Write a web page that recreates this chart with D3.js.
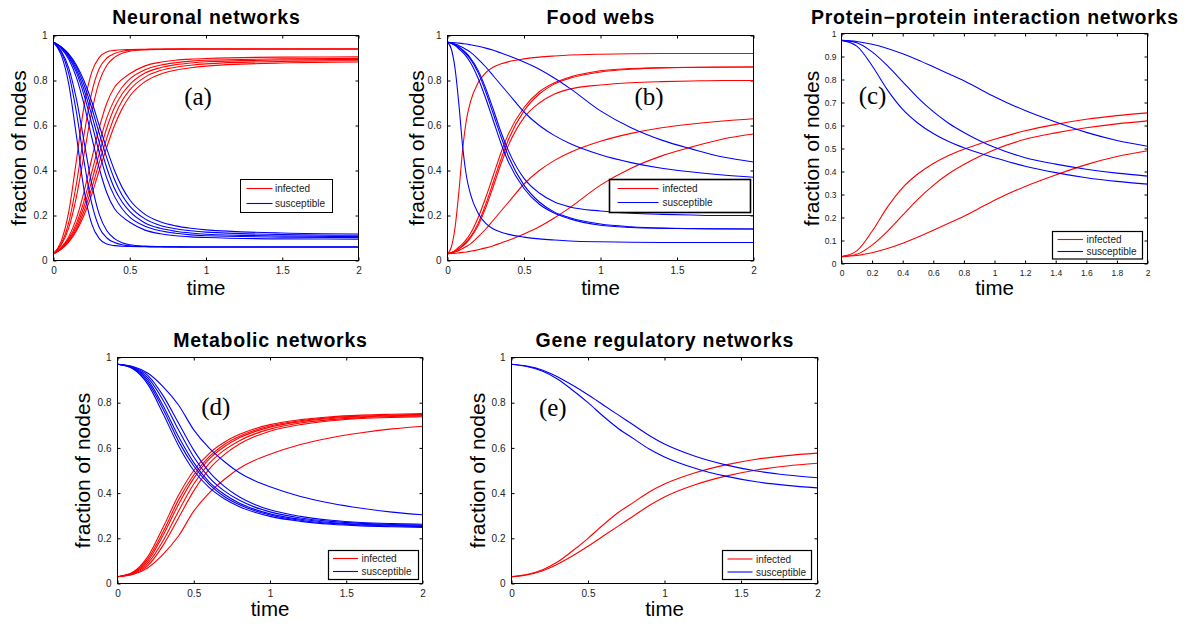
<!DOCTYPE html>
<html><head><meta charset="utf-8">
<script src="https://cdn.jsdelivr.net/npm/d3@7"></script>
<style>body{margin:0;background:#fff} svg{display:block}</style>
</head><body>
<svg id="chart" width="1200" height="624"></svg>
<script>
// ---------------- DATA ----------------
const titles = ["Neuronal networks","Food webs","Protein\u2212protein interaction networks","Metabolic networks","Gene regulatory networks"];
const panelTags = ["(a)","(b)","(c)","(d)","(e)"];
const legendLabels = ["infected","susceptible"];
const xAxisTitle = "time";
const yAxisTitle = "fraction of nodes";

const xTickLabels = ["0","0.5","1","1.5","2"];
const yTickLabels = ["0","0.2","0.4","0.6","0.8","1"];
const xTickLabelsC = ["0","0.2","0.4","0.6","0.8","1","1.2","1.4","1.6","1.8","2"];
const yTickLabelsC = ["0","0.1","0.2","0.3","0.4","0.5","0.6","0.7","0.8","0.9","1"];

// (a) Neuronal networks
const timesA = [0,0.05,0.1,0.15,0.2,0.25,0.3,0.35,0.4,0.45,0.5,0.6,0.7,0.8,0.9,1,1.5,2];
const infectedA = [
 [0.03,0.085,0.216,0.444,0.685,0.836,0.903,0.927,0.934,0.937,0.938,0.939,0.94,0.94,0.94,0.94,0.94,0.94],
 [0.03,0.073,0.169,0.340,0.558,0.744,0.853,0.9,0.92,0.93,0.935,0.938,0.939,0.94,0.94,0.94,0.94,0.94],
 [0.03,0.068,0.145,0.282,0.47,0.658,0.795,0.868,0.903,0.921,0.93,0.936,0.938,0.939,0.94,0.94,0.94,0.94],
 [0.03,0.057,0.106,0.186,0.305,0.45,0.59,0.70,0.77,0.805,0.83,0.865,0.881,0.89,0.895,0.898,0.904,0.905],
 [0.03,0.054,0.096,0.164,0.264,0.39,0.52,0.635,0.715,0.77,0.807,0.848,0.868,0.879,0.886,0.89,0.896,0.898],
 [0.03,0.053,0.091,0.151,0.24,0.352,0.475,0.59,0.68,0.74,0.782,0.833,0.857,0.87,0.878,0.883,0.891,0.893],
 [0.03,0.051,0.086,0.139,0.219,0.32,0.435,0.545,0.64,0.71,0.758,0.815,0.844,0.859,0.868,0.874,0.885,0.888],
 [0.03,0.05,0.082,0.131,0.201,0.292,0.40,0.505,0.60,0.675,0.73,0.795,0.828,0.846,0.857,0.864,0.878,0.882]
];
const susceptibleA = [
 [0.97,0.915,0.784,0.556,0.315,0.164,0.097,0.073,0.066,0.063,0.062,0.061,0.06,0.06,0.06,0.06,0.06,0.06],
 [0.97,0.927,0.831,0.66,0.442,0.256,0.147,0.1,0.08,0.07,0.065,0.062,0.061,0.06,0.06,0.06,0.06,0.06],
 [0.97,0.932,0.855,0.718,0.53,0.342,0.205,0.132,0.097,0.079,0.07,0.064,0.062,0.061,0.06,0.06,0.06,0.06],
 [0.97,0.943,0.894,0.814,0.695,0.55,0.41,0.30,0.23,0.195,0.17,0.135,0.119,0.11,0.105,0.102,0.096,0.095],
 [0.97,0.946,0.904,0.836,0.736,0.61,0.48,0.365,0.285,0.23,0.193,0.152,0.132,0.121,0.114,0.11,0.104,0.102],
 [0.97,0.947,0.909,0.849,0.76,0.648,0.525,0.41,0.32,0.26,0.218,0.167,0.143,0.13,0.122,0.117,0.109,0.107],
 [0.97,0.949,0.914,0.861,0.781,0.68,0.565,0.455,0.36,0.29,0.242,0.185,0.156,0.141,0.132,0.126,0.115,0.112],
 [0.97,0.95,0.918,0.869,0.799,0.708,0.60,0.495,0.40,0.325,0.27,0.205,0.172,0.154,0.143,0.136,0.122,0.118]
];

// (b) Food webs
const timesB = [0,0.025,0.05,0.075,0.1,0.125,0.15,0.2,0.25,0.3,0.35,0.4,0.5,0.6,0.7,0.8,1,1.2,1.4,1.6,1.8,2];
const infectedB = [
 [0.03,0.06,0.15,0.31,0.50,0.63,0.705,0.79,0.835,0.86,0.874,0.884,0.896,0.904,0.909,0.913,0.917,0.919,0.92,0.92,0.92,0.92],
 [0.03,0.035,0.045,0.06,0.075,0.095,0.12,0.19,0.28,0.38,0.48,0.565,0.68,0.75,0.79,0.815,0.843,0.853,0.857,0.859,0.86,0.86],
 [0.03,0.034,0.042,0.054,0.068,0.085,0.105,0.165,0.25,0.35,0.45,0.54,0.665,0.74,0.785,0.81,0.838,0.85,0.856,0.858,0.859,0.86],
 [0.03,0.034,0.041,0.051,0.064,0.08,0.10,0.155,0.235,0.33,0.43,0.515,0.635,0.70,0.74,0.762,0.78,0.79,0.795,0.798,0.8,0.8],
 [0.03,0.033,0.038,0.045,0.053,0.063,0.074,0.105,0.14,0.18,0.22,0.26,0.34,0.40,0.445,0.48,0.53,0.565,0.59,0.607,0.62,0.63],
 [0.03,0.031,0.032,0.034,0.036,0.038,0.041,0.048,0.056,0.066,0.078,0.09,0.118,0.15,0.19,0.235,0.335,0.41,0.465,0.505,0.54,0.562]
];
const susceptibleB = [
 [0.97,0.94,0.85,0.69,0.50,0.37,0.295,0.21,0.165,0.14,0.126,0.116,0.104,0.096,0.091,0.087,0.083,0.081,0.08,0.08,0.08,0.08],
 [0.97,0.965,0.955,0.94,0.925,0.905,0.88,0.81,0.72,0.62,0.52,0.435,0.32,0.25,0.21,0.185,0.157,0.147,0.143,0.141,0.14,0.14],
 [0.97,0.966,0.958,0.946,0.932,0.915,0.895,0.835,0.75,0.65,0.55,0.46,0.335,0.26,0.215,0.19,0.162,0.15,0.144,0.142,0.141,0.14],
 [0.97,0.966,0.959,0.949,0.936,0.92,0.90,0.845,0.765,0.67,0.57,0.485,0.365,0.30,0.26,0.238,0.22,0.21,0.205,0.202,0.2,0.2],
 [0.97,0.967,0.962,0.955,0.947,0.937,0.926,0.895,0.86,0.82,0.78,0.74,0.66,0.60,0.555,0.52,0.47,0.435,0.41,0.393,0.38,0.37],
 [0.97,0.969,0.968,0.966,0.964,0.962,0.959,0.952,0.944,0.934,0.922,0.91,0.882,0.85,0.81,0.765,0.665,0.59,0.535,0.495,0.46,0.438]
];

// (c) Protein-protein interaction networks
const timesC = [0,0.1,0.2,0.3,0.4,0.5,0.6,0.7,0.8,0.9,1,1.2,1.4,1.6,1.8,2];
const infectedC = [
 [0.03,0.055,0.14,0.245,0.33,0.39,0.435,0.47,0.497,0.52,0.54,0.577,0.605,0.627,0.643,0.655],
 [0.03,0.04,0.08,0.14,0.21,0.28,0.34,0.39,0.43,0.465,0.495,0.54,0.568,0.59,0.607,0.62],
 [0.03,0.035,0.047,0.065,0.088,0.115,0.145,0.175,0.205,0.24,0.275,0.335,0.385,0.43,0.465,0.49]
];
const susceptibleC = [
 [0.97,0.945,0.86,0.755,0.67,0.61,0.565,0.53,0.503,0.48,0.46,0.423,0.395,0.373,0.357,0.345],
 [0.97,0.96,0.92,0.86,0.79,0.72,0.66,0.61,0.57,0.535,0.505,0.46,0.432,0.41,0.393,0.38],
 [0.97,0.965,0.953,0.935,0.912,0.885,0.855,0.825,0.795,0.76,0.725,0.665,0.615,0.57,0.535,0.51]
];

// (d) Metabolic networks
const timesD = [0,0.1,0.2,0.3,0.4,0.5,0.6,0.7,0.8,0.9,1,1.2,1.4,1.6,1.8,2];
const infectedD = [
 [0.03,0.05,0.12,0.25,0.39,0.50,0.575,0.625,0.66,0.685,0.703,0.725,0.738,0.745,0.749,0.752],
 [0.03,0.048,0.11,0.23,0.37,0.48,0.56,0.615,0.652,0.678,0.697,0.72,0.734,0.741,0.745,0.748],
 [0.03,0.046,0.10,0.215,0.35,0.465,0.55,0.605,0.645,0.672,0.692,0.716,0.73,0.738,0.742,0.745],
 [0.03,0.044,0.09,0.19,0.32,0.44,0.53,0.59,0.632,0.662,0.683,0.71,0.725,0.734,0.739,0.742],
 [0.03,0.042,0.08,0.17,0.29,0.41,0.505,0.57,0.617,0.65,0.674,0.703,0.72,0.73,0.735,0.738],
 [0.03,0.04,0.07,0.13,0.21,0.32,0.40,0.46,0.51,0.545,0.572,0.615,0.645,0.667,0.684,0.696]
];
const susceptibleD = [
 [0.97,0.95,0.88,0.75,0.61,0.50,0.425,0.375,0.34,0.315,0.297,0.275,0.262,0.255,0.251,0.248],
 [0.97,0.952,0.89,0.77,0.63,0.52,0.44,0.385,0.348,0.322,0.303,0.28,0.266,0.259,0.255,0.252],
 [0.97,0.954,0.90,0.785,0.65,0.535,0.45,0.395,0.355,0.328,0.308,0.284,0.27,0.262,0.258,0.255],
 [0.97,0.956,0.91,0.81,0.68,0.56,0.47,0.41,0.368,0.338,0.317,0.29,0.275,0.266,0.261,0.258],
 [0.97,0.958,0.92,0.83,0.71,0.59,0.495,0.43,0.383,0.35,0.326,0.297,0.28,0.27,0.265,0.262],
 [0.97,0.96,0.93,0.87,0.79,0.68,0.60,0.54,0.49,0.455,0.428,0.385,0.355,0.333,0.316,0.304]
];

// (e) Gene regulatory networks
const timesE = [0,0.1,0.2,0.3,0.4,0.5,0.6,0.7,0.8,0.9,1,1.2,1.4,1.6,1.8,2];
const infectedE = [
 [0.03,0.04,0.06,0.095,0.145,0.2,0.26,0.315,0.36,0.405,0.44,0.49,0.525,0.55,0.566,0.577],
 [0.03,0.038,0.055,0.085,0.123,0.165,0.21,0.255,0.30,0.345,0.383,0.437,0.475,0.502,0.52,0.532]
];
const susceptibleE = [
 [0.97,0.96,0.94,0.905,0.855,0.8,0.74,0.685,0.64,0.595,0.56,0.51,0.475,0.45,0.434,0.423],
 [0.97,0.962,0.945,0.915,0.877,0.835,0.79,0.745,0.70,0.655,0.617,0.563,0.525,0.498,0.48,0.468]
];

// ---------------- LAYOUT (positions / styles) ----------------
const layouts = [
 {x:[53.5,358.5], y:[260.5,35.5], titleY:24, ylabX:26, xlabY:294.5, tag:[198,105], tickFs:10,
  leg:{x:240.5,y:179.5,w:92,h:33,l0:246.5,l1:272.5,tx:275,r:[188.5,203.5],sw:1}},
 {x:[447.5,753.5], y:[260.5,35.5], titleY:24, ylabX:423.5, xlabY:294.5, tag:[649,105], tickFs:10,
  leg:{x:609.5,y:179.5,w:141,h:33,l0:617.5,l1:658.5,tx:662.5,r:[188.5,202.5],sw:1.6}},
 {x:[841.5,1147.5], y:[263.5,33.5], titleY:24, ylabX:819, xlabY:294.5, tag:[872.5,104], tickFs:8.5,
  leg:{x:1052.5,y:231.5,w:90,h:27.5,l0:1057.5,l1:1083,tx:1086.5,r:[239.5,251.5],sw:1.2}},
 {x:[117.5,422.5], y:[583.5,357.5], titleY:347, ylabX:90, xlabY:616, tag:[215.8,415], tickFs:10,
  leg:{x:328.5,y:550.5,w:90,h:29,l0:333,l1:358,tx:361.5,r:[558.5,571.5],sw:1.2}},
 {x:[511.5,817.5], y:[583.5,357.5], titleY:347, ylabX:485, xlabY:616, tag:[552.8,416], tickFs:10,
  leg:{x:722.5,y:550.5,w:89,h:29,l0:727.5,l1:752.5,tx:756,r:[559,572],sw:1.2}}
];

const panels = [
 {times:timesA, inf:infectedA, sus:susceptibleA, xl:xTickLabels, yl:yTickLabels},
 {times:timesB, inf:infectedB, sus:susceptibleB, xl:xTickLabels, yl:yTickLabels},
 {times:timesC, inf:infectedC, sus:susceptibleC, xl:xTickLabelsC, yl:yTickLabelsC},
 {times:timesD, inf:infectedD, sus:susceptibleD, xl:xTickLabels, yl:yTickLabels},
 {times:timesE, inf:infectedE, sus:susceptibleE, xl:xTickLabels, yl:yTickLabels}
];

const SANS = "'Liberation Sans', Arial, Helvetica, sans-serif";
const SERIF = "'Liberation Serif', 'Times New Roman', serif";
const RED = "#ff0000", BLUE = "#0000ff";
const svg = d3.select("#chart");

panels.forEach((p, k) => {
  const L = layouts[k];
  const x = d3.scaleLinear().domain([0, 2]).range(L.x);
  const y = d3.scaleLinear().domain([0, 1]).range(L.y);
  const g = svg.append("g");
  const cid = "clip" + k;
  g.append("clipPath").attr("id", cid).append("rect")
    .attr("x", L.x[0]).attr("y", L.y[1]).attr("width", L.x[1]-L.x[0]).attr("height", L.y[0]-L.y[1]);

  const xv = p.xl.map(Number), yv = p.yl.map(Number);
  const fmt = labels => (d, i) => labels[i];
  const styleAxis = sel => {
    sel.select(".domain").remove();
    sel.selectAll("line").attr("stroke", "#000").attr("stroke-width", 1);
    sel.selectAll("text").attr("fill", "#222").attr("font-family", SANS).attr("font-size", L.tickFs);
  };
  g.append("g").attr("transform", `translate(0,${L.y[0]})`)
    .call(d3.axisBottom(x).tickValues(xv).tickFormat(fmt(p.xl)).tickSize(-3).tickPadding(6)).call(styleAxis);
  g.append("g").attr("transform", `translate(${L.x[0]},0)`)
    .call(d3.axisLeft(y).tickValues(yv).tickFormat(fmt(p.yl)).tickSize(-3).tickPadding(k===2?5:6)).call(styleAxis);
  g.append("g").attr("transform", `translate(0,${L.y[1]})`)
    .call(d3.axisTop(x).tickValues(xv).tickFormat("").tickSize(-3)).call(styleAxis);
  g.append("g").attr("transform", `translate(${L.x[1]},0)`)
    .call(d3.axisRight(y).tickValues(yv).tickFormat("").tickSize(-3)).call(styleAxis);

  const line = d3.line().x((d, i) => x(p.times[i])).y(d => y(d)).curve(d3.curveMonotoneX);
  const cg = g.append("g").attr("clip-path", `url(#${cid})`);
  p.inf.forEach(s => cg.append("path").attr("d", line(s)).attr("fill", "none")
    .attr("stroke", RED).attr("stroke-width", 1.1));
  p.sus.forEach(s => cg.append("path").attr("d", line(s)).attr("fill", "none")
    .attr("stroke", BLUE).attr("stroke-width", 1.1));

  g.append("rect").attr("x", L.x[0]).attr("y", L.y[1]).attr("width", L.x[1]-L.x[0]).attr("height", L.y[0]-L.y[1])
    .attr("fill", "none").attr("stroke", "#000").attr("stroke-width", 1);

  const cx = (L.x[0] + L.x[1]) / 2, cy = (L.y[0] + L.y[1]) / 2;
  g.append("text").attr("x", cx + 0.4).attr("y", L.titleY).attr("text-anchor", "middle")
    .attr("font-family", SANS).attr("font-weight", "bold").attr("font-size", 19.5)
    .attr("letter-spacing", 0.75).attr("fill", "#000")
    .text(titles[k]);
  g.append("text").attr("x", cx).attr("y", L.xlabY).attr("text-anchor", "middle")
    .attr("font-family", SANS).attr("font-size", 20.5).attr("fill", "#000").text(xAxisTitle);
  g.append("text").attr("transform", `translate(${L.ylabX},${cy}) rotate(-90)`).attr("text-anchor", "middle")
    .attr("font-family", SANS).attr("font-size", 21).attr("fill", "#000").text(yAxisTitle);
  g.append("text").attr("x", L.tag[0]).attr("y", L.tag[1]).attr("text-anchor", "middle")
    .attr("font-family", SERIF).attr("font-size", 25).attr("fill", "#000").text(panelTags[k]);

  const lg = L.leg;
  g.append("rect").attr("x", lg.x).attr("y", lg.y).attr("width", lg.w).attr("height", lg.h)
    .attr("fill", "#fff").attr("stroke", "#000").attr("stroke-width", lg.sw);
  [RED, BLUE].forEach((c, i) => {
    g.append("line").attr("x1", lg.l0).attr("x2", lg.l1).attr("y1", lg.r[i]).attr("y2", lg.r[i])
      .attr("stroke", c).attr("stroke-width", 1.1);
    g.append("text").attr("x", lg.tx).attr("y", lg.r[i] + 3.6).attr("font-family", SANS)
      .attr("font-size", 10).attr("fill", "#222").text(legendLabels[i]);
  });
});
</script>
</body></html>
